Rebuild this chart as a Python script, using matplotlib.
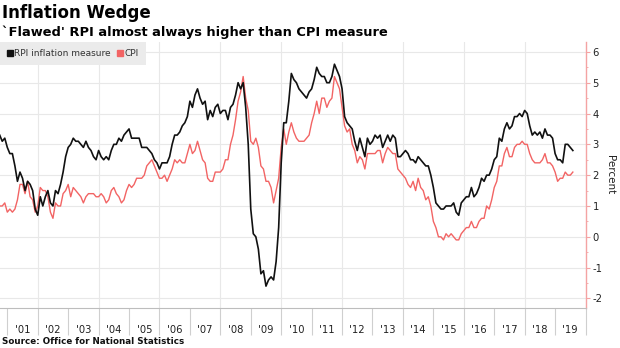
import numpy as np
import matplotlib
matplotlib.use("Agg")
import matplotlib.pyplot as plt
from matplotlib.lines import Line2D

plt.rcParams['font.family'] = ['DejaVu Sans']
plt.rcParams['axes.unicode_minus'] = False

# monthly 12-month rates, Sep 2000 .. Jul 2019
rpi = [
    3.3, 3.1, 3.2, 2.9,
    2.7, 2.7, 2.3, 1.8, 2.1, 1.9, 1.5, 1.8, 1.7, 1.5, 0.9, 0.7,
    1.3, 1.0, 1.3, 1.5, 1.1, 1.0, 1.5, 1.4, 1.7, 2.1, 2.6, 2.9,
    3.0, 3.2, 3.1, 3.1, 3.0, 2.9, 3.1, 2.9, 2.8, 2.6, 2.5, 2.8,
    2.6, 2.5, 2.6, 2.5, 2.8, 3.0, 3.0, 3.2, 3.1, 3.3, 3.4, 3.5,
    3.2, 3.2, 3.2, 3.2, 2.9, 2.9, 2.9, 2.8, 2.7, 2.5, 2.4, 2.2,
    2.4, 2.4, 2.4, 2.6, 3.0, 3.3, 3.3, 3.4, 3.6, 3.7, 3.9, 4.4,
    4.2, 4.6, 4.8, 4.5, 4.3, 4.4, 3.8, 4.1, 3.9, 4.2, 4.3, 4.0,
    4.1, 4.1, 3.8, 4.2, 4.3, 4.6, 5.0, 4.8, 5.0, 4.2, 3.0, 0.9,
    0.1, 0.0, -0.4, -1.2, -1.1, -1.6, -1.4, -1.3, -1.4, -0.8, 0.3, 2.4,
    3.7, 3.7, 4.4, 5.3, 5.1, 5.0, 4.8, 4.7, 4.6, 4.5, 4.7, 4.8,
    5.1, 5.5, 5.3, 5.2, 5.2, 5.0, 5.0, 5.2, 5.6, 5.4, 5.2, 4.8,
    3.9, 3.7, 3.6, 3.5, 3.1, 2.8, 3.2, 2.9, 2.6, 3.2, 3.0, 3.1,
    3.3, 3.2, 3.3, 2.9, 3.1, 3.3, 3.1, 3.3, 3.2, 2.6, 2.6, 2.7,
    2.8, 2.7, 2.5, 2.5, 2.4, 2.6, 2.5, 2.4, 2.3, 2.3, 2.0, 1.6,
    1.1, 1.0, 0.9, 0.9, 1.0, 1.0, 1.0, 1.1, 0.8, 0.7, 1.1, 1.2,
    1.3, 1.3, 1.6, 1.3, 1.4, 1.6, 1.9, 1.8, 2.0, 2.0, 2.2, 2.5,
    2.6, 3.2, 3.1, 3.5, 3.7, 3.5, 3.6, 3.9, 3.9, 4.0, 3.9, 4.1,
    4.0, 3.6, 3.3, 3.4, 3.3, 3.4, 3.2, 3.5, 3.3, 3.3, 3.2, 2.7,
    2.5, 2.5, 2.4, 3.0, 3.0, 2.9, 2.8,
]
cpi = [
    1.0, 1.0, 1.1, 0.8,
    0.9, 0.8, 0.9, 1.2, 1.7, 1.7, 1.4, 1.8, 1.3, 1.2, 0.8, 1.0,
    1.6, 1.5, 1.5, 1.3, 0.8, 0.6, 1.1, 1.0, 1.0, 1.4, 1.5, 1.7,
    1.3, 1.6, 1.5, 1.4, 1.3, 1.1, 1.3, 1.4, 1.4, 1.4, 1.3, 1.3,
    1.4, 1.3, 1.1, 1.2, 1.5, 1.6, 1.4, 1.3, 1.1, 1.2, 1.5, 1.7,
    1.6, 1.7, 1.9, 1.9, 1.9, 2.0, 2.3, 2.4, 2.5, 2.3, 2.1, 1.9,
    1.9, 2.0, 1.8, 2.0, 2.2, 2.5, 2.4, 2.5, 2.4, 2.4, 2.7, 3.0,
    2.7, 2.8, 3.1, 2.8, 2.5, 2.4, 1.9, 1.8, 1.8, 2.1, 2.1, 2.1,
    2.2, 2.5, 2.5, 3.0, 3.3, 3.8, 4.4, 4.7, 5.2, 4.5, 4.1, 3.1,
    3.0, 3.2, 2.9, 2.3, 2.2, 1.8, 1.8, 1.6, 1.1, 1.5, 1.9, 2.9,
    3.5, 3.0, 3.4, 3.7, 3.4, 3.2, 3.1, 3.1, 3.1, 3.2, 3.3, 3.7,
    4.0, 4.4, 4.0, 4.5, 4.5, 4.2, 4.4, 4.5, 5.2, 5.0, 4.8, 4.2,
    3.6, 3.4, 3.5, 3.0, 2.8, 2.4, 2.6, 2.5, 2.2, 2.7, 2.7, 2.7,
    2.7, 2.8, 2.8, 2.4, 2.7, 2.9, 2.8, 2.7, 2.7, 2.2, 2.1, 2.0,
    1.9, 1.7, 1.6, 1.8, 1.5, 1.9, 1.6, 1.5, 1.2, 1.3, 1.0, 0.5,
    0.3, 0.0, 0.0, -0.1, 0.1, 0.0, 0.1, 0.0, -0.1, -0.1, 0.1, 0.2,
    0.3, 0.3, 0.5, 0.3, 0.3, 0.5, 0.6, 0.6, 1.0, 0.9, 1.2, 1.6,
    1.8, 2.3, 2.3, 2.7, 2.9, 2.6, 2.6, 2.9, 3.0, 3.0, 3.1, 3.0,
    3.0, 2.7, 2.5, 2.4, 2.4, 2.4, 2.5, 2.7, 2.4, 2.4, 2.3, 2.1,
    1.8, 1.9, 1.9, 2.1, 2.0, 2.0, 2.1,
]
years = list(range(2001, 2020))
year_labels = ["'%02d" % (y % 100) for y in years]

# month-end positions in decimal years
months = np.arange(len(rpi))
t = 2000 + (9 + months) / 12.0

BLACK = '#111111'
RED = '#f26464'
GRID = '#e8e8e8'

fig = plt.figure(figsize=(6.2, 3.48), dpi=100)
ax = fig.add_axes([0.0, 0.1149, 0.9444, 0.7644])

ax.plot(t, rpi, color=BLACK, lw=1.2, zorder=3)
ax.plot(t, cpi, color=RED, lw=1.0, zorder=2)

ax.set_xlim(2000.76, 2020.0)
ax.set_ylim(-2.31, 6.32)

# y axis on the right, red spine
ax.yaxis.tick_right()
ax.set_yticks(range(-2, 7))
ax.set_yticks(np.arange(-2, 6.5, 0.5), minor=True)
ax.tick_params(axis='y', which='major', length=3, width=0.8, color='#f4a3a3',
               pad=2, labelsize=7.2, labelcolor='#222222')
ax.tick_params(axis='y', which='minor', length=1.5, width=0.6, color='#f4a3a3')
ax.grid(axis='y', color=GRID, lw=0.8, zorder=0)

# x axis: year boundaries as long ticks, labels centred on each year
ax.set_xticks(years + [2020])
ax.set_xticklabels([])
ax.set_xticks([y + 0.5 for y in years], minor=True)
ax.set_xticklabels(year_labels, minor=True)
ax.tick_params(axis='x', which='major', length=19.5, width=0.8, color='#cfcfcf')
ax.tick_params(axis='x', which='minor', length=0, pad=12, labelsize=7.2,
               labelcolor='#222222')
for y in range(2002, 2020, 2):
    ax.axvline(y, color=GRID, lw=0.8, zorder=0)

for side in ('left', 'top'):
    ax.spines[side].set_visible(False)
ax.spines['right'].set_color('#f4a3a3')
ax.spines['right'].set_linewidth(1.0)
ax.spines['bottom'].set_color('#bdbdbd')
ax.spines['bottom'].set_linewidth(0.8)

handles = [
    Line2D([], [], ls='none', marker='s', ms=4.5, color=BLACK, label='RPI inflation measure'),
    Line2D([], [], ls='none', marker='s', ms=4.5, color=RED, label='CPI'),
]
leg = ax.legend(handles=handles, loc='upper left', bbox_to_anchor=(0.0, 1.0), ncol=2,
                frameon=True, fancybox=False, facecolor='#ebebeb', edgecolor='none',
                framealpha=1, fontsize=6.5, handlelength=0.6, handletextpad=0.2,
                columnspacing=0.7, borderaxespad=0.0, borderpad=0.8)
for txt in leg.get_texts():
    txt.set_color('#333333')

fig.text(0.984, 0.497, 'Percent', rotation=270, ha='center', va='center',
         fontsize=7.5, color='#222222')

fig.text(0.003, 0.988, 'Inflation Wedge', fontsize=12, fontweight='bold',
         ha='left', va='top')
fig.text(0.003, 0.928, "`Flawed' RPI almost always higher than CPI measure",
         fontsize=9.4, fontweight='bold', ha='left', va='top')
fig.text(0.003, 0.006, 'Source: Office for National Statistics', fontsize=6.3,
         fontweight='bold', ha='left', va='bottom', color='#111111')

fig.savefig('out.png', dpi=100)
